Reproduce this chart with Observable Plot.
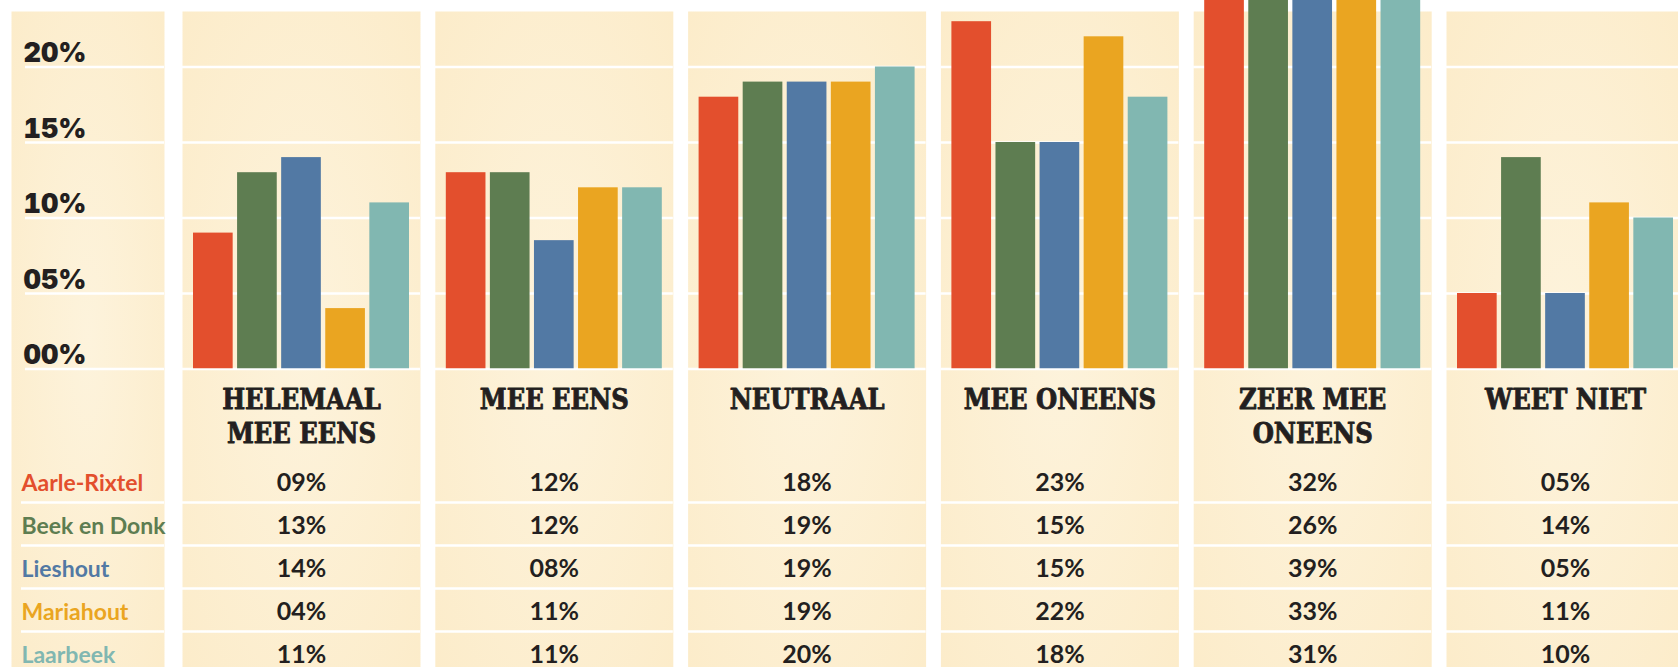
<!DOCTYPE html>
<html><head><meta charset="utf-8">
<script src="https://cdn.jsdelivr.net/npm/d3@7"></script>
<script src="https://cdn.jsdelivr.net/npm/@observablehq/plot@0.6"></script>
<style>html,body{margin:0;padding:0;background:#fff;overflow:hidden}</style>
</head><body><div id="chart"></div>
<script>
// ---- data ----
const categories = ["HELEMAAL\nMEE EENS", "MEE EENS", "NEUTRAAL", "MEE ONEENS", "ZEER MEE\nONEENS", "WEET NIET"];
const cities = ["Aarle-Rixtel", "Beek en Donk", "Lieshout", "Mariahout", "Laarbeek"];
const cityColors = ["#e34f2d", "#5e7d51", "#5279a4", "#eaa521", "#81b7b1"];
// bar heights as drawn (%)
const barAarleRixtel = [9, 13, 18, 23, 32, 5];
const barBeekEnDonk  = [13, 13, 19, 15, 26, 14];
const barLieshout    = [14, 8.5, 19, 15, 39, 5];
const barMariahout   = [4, 12, 19, 22, 33, 11];
const barLaarbeek    = [11, 12, 20, 18, 31, 10];
// values printed in the table (%)
const tabAarleRixtel = [9, 12, 18, 23, 32, 5];
const tabBeekEnDonk  = [13, 12, 19, 15, 26, 14];
const tabLieshout    = [14, 8, 19, 15, 39, 5];
const tabMariahout   = [4, 11, 19, 22, 33, 11];
const tabLaarbeek    = [11, 11, 20, 18, 31, 10];
const yTicks = [0, 5, 10, 15, 20];

const barSeries = [barAarleRixtel, barBeekEnDonk, barLieshout, barMariahout, barLaarbeek];
const tabSeries = [tabAarleRixtel, tabBeekEnDonk, tabLieshout, tabMariahout, tabLaarbeek];
const bars = [];
barSeries.forEach((s, i) => s.forEach((v, j) => bars.push({category: categories[j], city: cities[i], value: v})));
const fmt = d => d3.format("02d")(d) + "%";

// ---- layout (styles) ----
const W = 1678, H = 667;
const baseY = 368.5;          // 0% line
const panelFill = "url(#panelbg)";
const ink = "#231f20";
const panelW = 238;
const leftOff = 182;          // first panel left edge
const rowBase = [490, 533, 576, 619, 662];
const rowLines = [502, 545, 588, 631];

const marks = [
  // beige panels
  Plot.frame({fill: panelFill, stroke: null, insetTop: 11, insetBottom: -(H - baseY + 5)}),
  // left column panel
  Plot.frame({facetAnchor: "left", fill: panelFill, stroke: null, insetTop: 11, insetBottom: -(H - baseY + 5),
              insetLeft: -(leftOff - 11), insetRight: panelW + (leftOff - 164)}),
  // grid
  Plot.gridY(yTicks, {stroke: "#fff", strokeOpacity: 1, strokeWidth: 2.6}),
  Plot.ruleY(yTicks, {facetAnchor: "left", stroke: "#fff", strokeWidth: 2.6,
              insetLeft: -(leftOff - 25), insetRight: panelW + (leftOff - 164)}),
  // table row separators
  ...rowLines.map(yl => Plot.ruleY([0], {stroke: "#fff", strokeWidth: 2.6, dy: yl - baseY})),
  ...rowLines.map(yl => Plot.ruleY([0], {facetAnchor: "left", stroke: "#fff", strokeWidth: 2.6, dy: yl - baseY,
              insetLeft: -(leftOff - 21), insetRight: panelW + (leftOff - 164)})),
  // bars
  Plot.barY(bars, {fx: "category", x: "city", y: "value", fill: "city", clip: true}),
  // y axis labels
  Plot.axisY(yTicks, {label: null, tickSize: 0, tickPadding: 0, tickFormat: fmt, textAnchor: "start", lineAnchor: "bottom",
              dx: 23 - leftOff, dy: -5, fontSize: 27, fontWeight: 900, fontFamily: "Inter", fill: ink}),
  // category headers
  Plot.text(categories, {fx: d => d, text: d => d, frameAnchor: "bottom", lineAnchor: "top",
              lineHeight: 35 / 27, fontSize: 27, fontWeight: "bold", fontFamily: "'DejaVu Serif Condensed', 'DejaVu Serif'",
              dy: 408 - baseY - 0.71 * 35, fill: ink, stroke: ink, strokeWidth: 0.8, letterSpacing: 0.5}),
  // table values
  ...tabSeries.map((s, i) => Plot.text(s.map((v, j) => ({category: categories[j], v})), {
              fx: "category", text: d => fmt(d.v), frameAnchor: "bottom", lineAnchor: "bottom",
              dy: rowBase[i] - baseY, fontSize: 25, fontWeight: 700, fontFamily: "Lato", fill: ink, letterSpacing: 1})),
  // city labels
  ...cities.map((c, i) => Plot.text([c], {facetAnchor: "left", text: d => d, frameAnchor: "bottom-left",
              textAnchor: "start", lineAnchor: "bottom", dx: 21 - leftOff, dy: rowBase[i] - baseY,
              fontSize: 23, fontWeight: 700, fontFamily: "Lato", fill: cityColors[i], letterSpacing: -0.2}))
];

const chart = Plot.plot({
  width: W, height: H,
  marginTop: 0, marginBottom: H - baseY, marginLeft: leftOff, marginRight: 0,
  fx: {domain: categories, range: [leftOff, leftOff + 5 * 252.8 + panelW], paddingInner: 14.8 / 252.8, paddingOuter: 0, round: false, axis: null},
  x: {domain: cities, paddingInner: 0.1, paddingOuter: 0, insetLeft: 11, insetRight: 11, round: false, axis: null},
  y: {domain: [0, 20], range: [baseY, 66.5], axis: null},
  color: {domain: cities, range: cityColors},
  style: {background: "#fff", overflow: "hidden", color: ink},
  marks
});

// radial gradient for panel backgrounds
const ns = "http://www.w3.org/2000/svg";
const defs = document.createElementNS(ns, "defs");
defs.innerHTML = `<radialGradient id="panelbg" cx="0.5" cy="0.5" r="0.7">
  <stop offset="0" stop-color="#fdf3dc"/><stop offset="1" stop-color="#fcecca"/></radialGradient>`;
chart.insertBefore(defs, chart.firstChild);
document.getElementById("chart").appendChild(chart);
</script>
</body></html>
